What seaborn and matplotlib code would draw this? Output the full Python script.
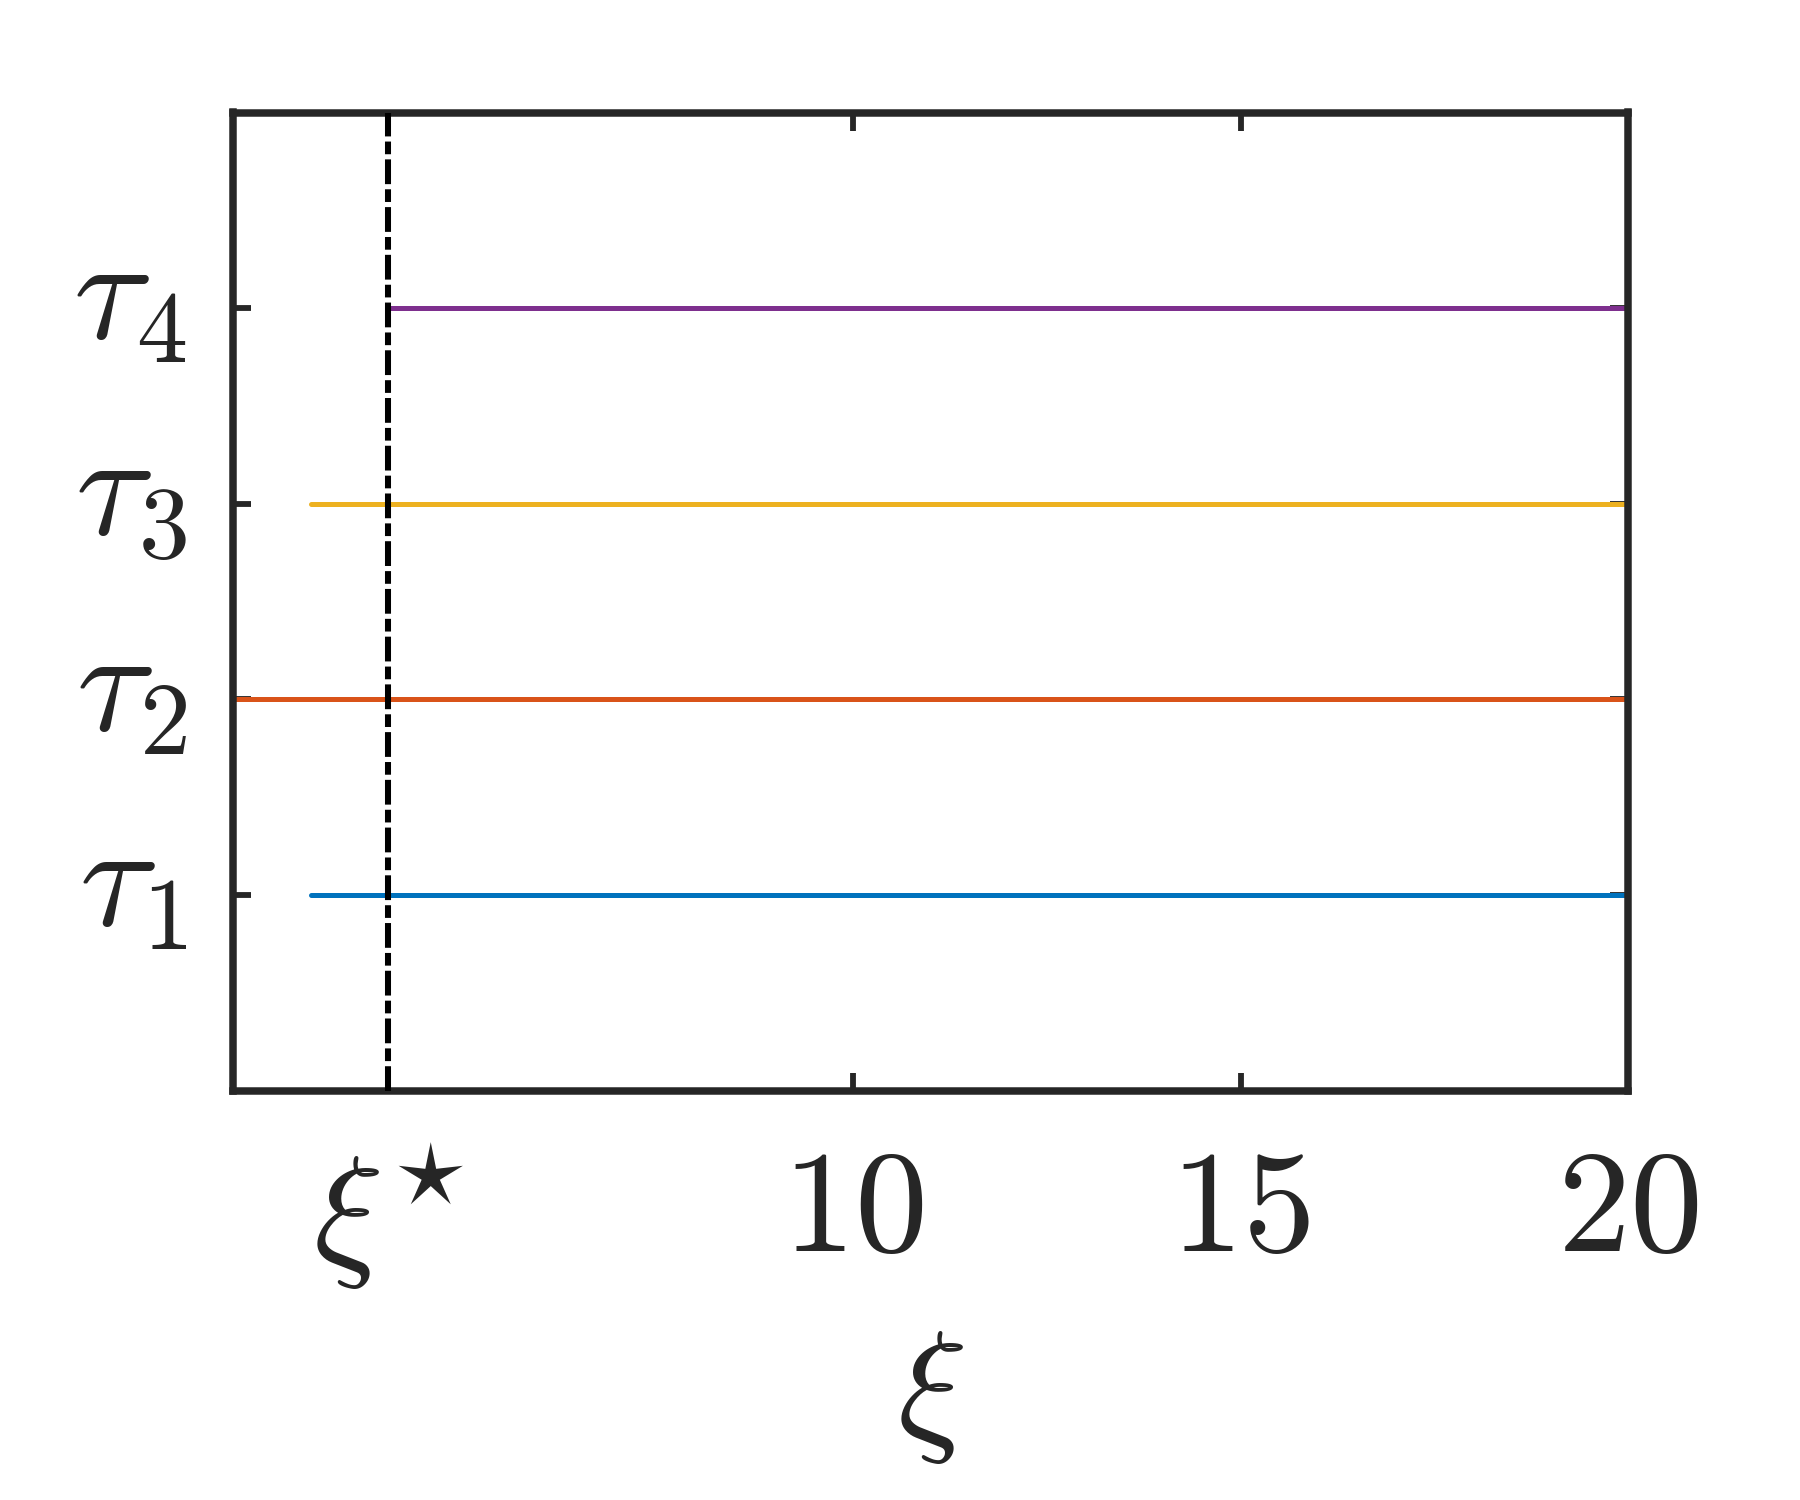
import numpy as np
import pandas as pd
import seaborn as sns
import matplotlib.pyplot as plt
from matplotlib.transforms import ScaledTranslation

# levels and where each one starts (all run to the right edge)
tau_levels = [1, 2, 3, 4]
tau_names = ['tau1', 'tau2', 'tau3', 'tau4']
x_start = [3, 2, 3, 4]
x_end = [20, 20, 20, 20]
xi_star = 4
xtick_vals = [4, 10, 15, 20]
xtick_labels = [r'$\xi^{\star}$', r'$10$', r'$15$', r'$20$']
ytick_labels = [r'$\tau_1$', r'$\tau_2$', r'$\tau_3$', r'$\tau_4$']
colors = ['#0072BD', '#D95319', '#EDB120', '#7E2F8E']

sns.set_style('white')
plt.rcParams['mathtext.fontset'] = 'cm'
plt.rcParams['font.family'] = ['DejaVu Sans']

rows = []
for name, lvl, a, b in zip(tau_names, tau_levels, x_start, x_end):
    rows.append({'xi': a, 'tau': lvl, 'series': name})
    rows.append({'xi': b, 'tau': lvl, 'series': name})
df = pd.DataFrame(rows)

fig = plt.figure(figsize=(6, 5), dpi=300)
ax = fig.add_axes([0.1295, 0.273, 0.775, 0.652])

sns.lineplot(data=df, x='xi', y='tau', hue='series', palette=colors,
             estimator=None, sort=False, linewidth=1.2, legend=False, ax=ax)
ax.axvline(xi_star, color='black', linewidth=1.45, dashes=(4.1, 0.85, 2.1, 0.85), zorder=3)

ax.set_xlim(2, 20)
ax.set_ylim(0, 5)
ax.set_xticks(xtick_vals)
ax.set_xticklabels(xtick_labels)
ax.set_yticks(tau_levels)
ax.set_yticklabels(ytick_labels)
ax.set_xlabel(r'$\xi$', fontsize=35, labelpad=8)
ax.set_ylabel('')

ax.tick_params(axis='both', direction='in', bottom=True, left=True, top=True, right=True,
               length=4.4, width=1.4, color='#262626', labelsize=35)
ax.tick_params(axis='x', pad=12)
ax.tick_params(axis='y', pad=11)
for s in ax.spines.values():
    s.set_linewidth(1.8)
    s.set_color('#262626')
    s.set_visible(True)

# lift the tau labels a bit so the tau sits on the tick like the original
for lab in ax.get_yticklabels():
    lab.set_transform(lab.get_transform() + ScaledTranslation(0, 6 / 72, fig.dpi_scale_trans))

fig.savefig('out.png', dpi=300, facecolor='white')
